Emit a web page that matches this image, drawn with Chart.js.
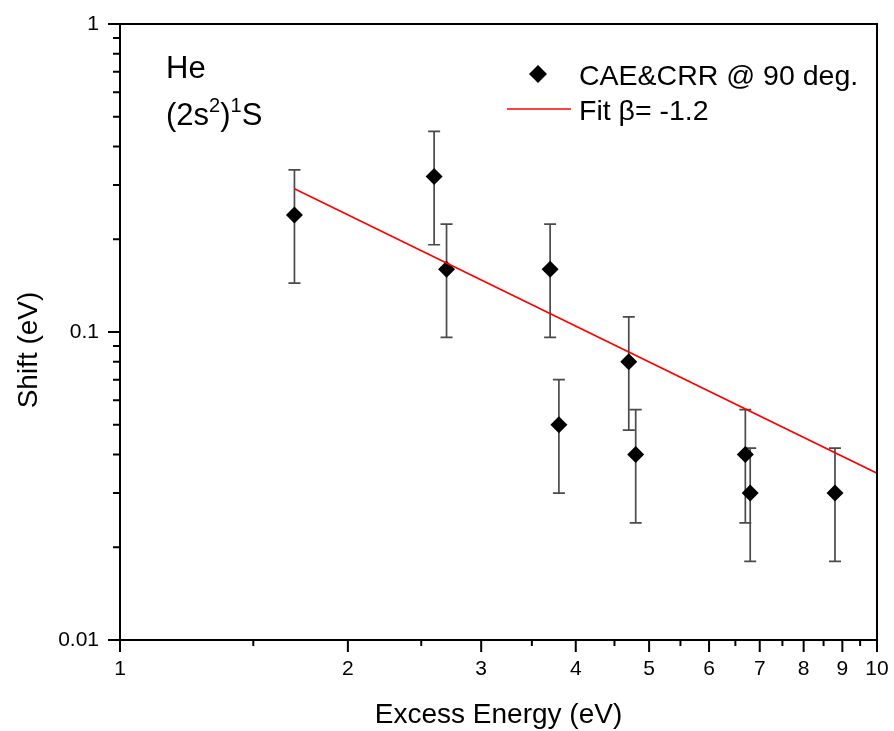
<!DOCTYPE html>
<html>
<head>
<meta charset="utf-8">
<script src="https://cdn.jsdelivr.net/npm/chart.js@4"></script>
<style>
  html, body { margin: 0; padding: 0; background: #fff; }
  #wrap { width: 894px; height: 731px; }
</style>
</head>
<body>
<div id="wrap"><canvas id="c" width="894" height="731"></canvas></div>
<script>
const FONT = '"Liberation Sans", Arial, Helvetica, sans-serif';

// Measured shift vs excess energy, with lower / upper error limits (eV)
const excessEnergy = [1.7, 2.6, 2.7, 3.7, 3.8, 4.7, 4.8, 6.7, 6.8, 8.8];
const shift        = [0.24, 0.32, 0.16, 0.16, 0.05, 0.08, 0.04, 0.04, 0.03, 0.03];
const shiftLow     = [0.144, 0.192, 0.096, 0.096, 0.03, 0.048, 0.024, 0.024, 0.018, 0.018];
const shiftHigh    = [0.336, 0.448, 0.224, 0.224, 0.07, 0.112, 0.056, 0.056, 0.042, 0.042];

// Power-law fit (beta = -1.2), straight on log-log axes: end points
const fitEnergy = [1.7, 10];
const fitShift  = [0.292, 0.0348];

// Axis ticks
const xMajorTicks  = [1, 2, 3, 4, 5, 6, 7, 8, 9, 10];
const xMajorLabels = ['1', '2', '3', '4', '5', '6', '7', '8', '9', '10'];
const xMinorTicks  = [1.5, 2.5, 3.5, 4.5, 5.5, 6.5, 7.5, 8.5, 9.5];
const yMajorTicks  = [0.01, 0.1, 1];
const yMajorLabels = ['0.01', '0.1', '1'];
const yMinorTicks  = [0.02, 0.03, 0.04, 0.05, 0.06, 0.07, 0.08, 0.09,
                      0.2, 0.3, 0.4, 0.5, 0.6, 0.7, 0.8, 0.9];

const seriesLabel = 'CAE&CRR @ 90 deg.';
const fitLabel = 'Fit \u03B2= -1.2';

function diamond(ctx, x, y, r) {
  ctx.beginPath();
  ctx.moveTo(x - r, y);
  ctx.lineTo(x, y - r);
  ctx.lineTo(x + r, y);
  ctx.lineTo(x, y + r);
  ctx.closePath();
  ctx.fill();
}

// Vertical error bars with caps, drawn beneath the markers
const errorBars = {
  id: 'errorBars',
  beforeDatasetsDraw(chart) {
    const { ctx, scales: { x, y } } = chart;
    ctx.save();
    ctx.strokeStyle = '#4a4a4a';
    ctx.lineWidth = 1.7;
    ctx.beginPath();
    excessEnergy.forEach((e, i) => {
      const px = x.getPixelForValue(e);
      const lo = y.getPixelForValue(shiftLow[i]);
      const hi = y.getPixelForValue(shiftHigh[i]);
      ctx.moveTo(px, lo); ctx.lineTo(px, hi);
      ctx.moveTo(px - 6, lo); ctx.lineTo(px + 6, lo);
      ctx.moveTo(px - 6, hi); ctx.lineTo(px + 6, hi);
    });
    ctx.stroke();
    ctx.restore();
  }
};

// Frame, outward tick marks, titles, annotation and legend
const decorations = {
  id: 'decorations',
  afterDraw(chart) {
    const { ctx, chartArea: a, scales: { x, y } } = chart;
    ctx.save();
    ctx.strokeStyle = '#000';
    ctx.lineWidth = 2;
    ctx.strokeRect(a.left, a.top, a.right - a.left, a.bottom - a.top);

    ctx.beginPath();
    xMajorTicks.forEach(v => {
      const p = x.getPixelForValue(v);
      ctx.moveTo(p, a.bottom); ctx.lineTo(p, a.bottom + 12);
    });
    xMinorTicks.forEach(v => {
      const p = x.getPixelForValue(v);
      ctx.moveTo(p, a.bottom); ctx.lineTo(p, a.bottom + 6);
    });
    yMajorTicks.forEach(v => {
      const p = y.getPixelForValue(v);
      ctx.moveTo(a.left, p); ctx.lineTo(a.left - 12, p);
    });
    yMinorTicks.forEach(v => {
      const p = y.getPixelForValue(v);
      ctx.moveTo(a.left, p); ctx.lineTo(a.left - 7, p);
    });
    ctx.stroke();

    ctx.fillStyle = '#000';
    // Axis titles
    ctx.font = '28px ' + FONT;
    ctx.textAlign = 'center';
    ctx.textBaseline = 'alphabetic';
    ctx.fillText('Excess Energy (eV)', (a.left + a.right) / 2, 723);
    ctx.save();
    ctx.translate(37, 350);
    ctx.rotate(-Math.PI / 2);
    ctx.fillText('Shift (eV)', 0, 0);
    ctx.restore();

    // State annotation
    ctx.textAlign = 'left';
    ctx.font = '31px ' + FONT;
    ctx.fillText('He', 166, 78);
    let cx = 166;
    const base = 125;
    const big = '31px ' + FONT, small = '20px ' + FONT;
    const parts = [['(2s', big, 0], ['2', small, -13], [')', big, 0], ['1', small, -13], ['S', big, 0]];
    parts.forEach(([t, f, dy]) => {
      ctx.font = f;
      ctx.fillText(t, cx, base + dy);
      cx += ctx.measureText(t).width;
    });

    // Legend
    ctx.font = '28.5px ' + FONT;
    diamond(ctx, 538, 74, 9);
    ctx.fillText(seriesLabel, 579, 85);
    ctx.strokeStyle = '#ff0000';
    ctx.lineWidth = 1.6;
    ctx.beginPath();
    ctx.moveTo(507, 109); ctx.lineTo(571, 109);
    ctx.stroke();
    ctx.fillText(fitLabel, 579, 120);
    ctx.restore();
  }
};

Chart.defaults.color = '#000';
Chart.defaults.font.family = FONT;

new Chart(document.getElementById('c'), {
  type: 'scatter',
  data: {
    datasets: [
      {
        label: fitLabel,
        type: 'line',
        order: 0,
        data: fitEnergy.map((e, i) => ({ x: e, y: fitShift[i] })),
        borderColor: '#ff0000',
        borderWidth: 1.6,
        pointRadius: 0,
        fill: false,
        tension: 0
      },
      {
        label: seriesLabel,
        order: 1,
        data: excessEnergy.map((e, i) => ({ x: e, y: shift[i] })),
        pointStyle: 'rectRot',
        pointRadius: 8.5,
        pointHoverRadius: 8.5,
        backgroundColor: '#000',
        borderColor: '#000',
        borderWidth: 0
      }
    ]
  },
  options: {
    responsive: false,
    animation: false,
    events: [],
    layout: { padding: { left: 0, right: 17, top: 24, bottom: 0 } },
    plugins: { legend: { display: false }, tooltip: { enabled: false } },
    scales: {
      x: {
        type: 'logarithmic',
        min: 1, max: 10,
        border: { display: false },
        grid: { display: false, drawTicks: false },
        afterBuildTicks: s => { s.ticks = xMajorTicks.map(v => ({ value: v })); },
        afterFit: s => { s.height = 91; s.paddingLeft = 0; s.paddingRight = 0; },
        ticks: {
          autoSkip: false, maxRotation: 0, padding: 17,
          font: { size: 21 },
          callback: v => xMajorLabels[xMajorTicks.indexOf(v)]
        }
      },
      y: {
        type: 'logarithmic',
        min: 0.01, max: 1,
        border: { display: false },
        grid: { display: false, drawTicks: false },
        afterBuildTicks: s => { s.ticks = yMajorTicks.map(v => ({ value: v })); },
        afterFit: s => { s.width = 120; s.paddingTop = 0; s.paddingBottom = 0; },
        ticks: {
          autoSkip: false, padding: 21,
          font: { size: 21 },
          callback: v => yMajorLabels[yMajorTicks.indexOf(v)]
        }
      }
    }
  },
  plugins: [errorBars, decorations]
});
</script>
</body>
</html>
